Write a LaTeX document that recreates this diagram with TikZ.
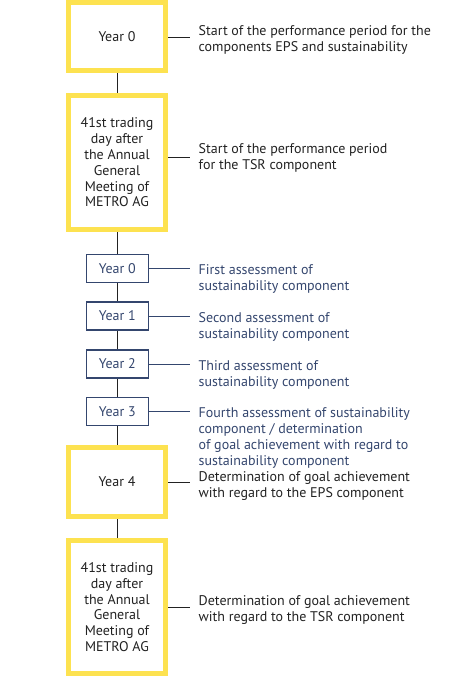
\documentclass[tikz,border=0pt]{standalone}
\usepackage{fontspec}
\setmainfont{PT Sans}
\usepackage{xcolor}
\usetikzlibrary{positioning}
\definecolor{myyellow}{HTML}{FDE250}
\definecolor{mynavy}{HTML}{34466E}
\definecolor{mydark}{HTML}{222222}
\tikzset{
  node big/.style={draw=myyellow,line width=5bp,fill=white,minimum width=97bp,inner sep=0,align=center,text=mydark,font=\fontsize{14bp}{15.8bp}\selectfont},
  node small/.style={draw=mynavy,line width=1.2bp,fill=white,minimum width=62bp,minimum height=28bp,inner sep=0,text=mynavy,font=\fontsize{14bp}{16bp}\selectfont},
  note/.style={anchor=west,align=left,inner sep=0,font=\fontsize{14bp}{16bp}\selectfont},
  note big/.style={note,text=mydark},
  note small/.style={note,text=mynavy},
  connect/.style={line width=1bp,mydark},
  connect small/.style={line width=1bp,mynavy}
}
\begin{document}
\begin{tikzpicture}[x=1bp,y=-1bp]
  \useasboundingbox (0,0) rectangle (460,676);

  % main line
  \draw[connect] (117,30) coordinate (top) -- (117,650) coordinate (bot);

  % big boxes
  \node[node big,minimum height=68bp] (b0) at (117,36.5) {Year 0};
  \node[node big,minimum height=134bp] (b1) at (117,162.5) {41st trading\\day after\\the Annual\\General\\Meeting of\\METRO AG};
  \node[node big,minimum height=69bp] (b2) at (117,482) {Year 4};
  \node[node big,minimum height=133bp] (b3) at (117,607) {41st trading\\day after\\the Annual\\General\\Meeting of\\METRO AG};

  % small boxes
  \foreach \i/\y in {0/268.3,1/316,2/364,3/411.5}
  \node[node small] (s\i) at (117.3,\y) {Year \i};

  % connectors to the notes
  \foreach \n/\y in {b0/37.3,b1/157.3,b2/482.3,b3/607.3}{
      \coordinate (c\n) at (190,\y);
      \draw[connect] (\n.east |- c\n) -- (c\n);
    }
  \foreach \i in {0,...,3}{
      \coordinate (cs\i) at (190,0 |- s\i);
      \draw[connect small] (s\i.east) -- (cs\i);
    }

  \node[note big] at (198.5,39.5) {Start of the performance period for the\\components EPS and sustainability};
  \node[note big] at (198.5,158) {Start of the performance period\\for the TSR component};
  \node[note small] at (198.5,279) {First assessment of\\sustainability component};
  \node[note small] at (198.5,327) {Second assessment of\\sustainability component};
  \node[note small] at (198.5,375) {Third assessment of\\sustainability component};
  \node[note small,anchor=north west] at (198.5,407.5) {Fourth assessment of sustainability\\component / determination\\of goal achievement with regard to\\sustainability component};
  \node[note big] at (198.5,486) {Determination of goal achievement\\with regard to the EPS component};
  \node[note big] at (198.5,610) {Determination of goal achievement\\with regard to the TSR component};
\end{tikzpicture}
\end{document}
